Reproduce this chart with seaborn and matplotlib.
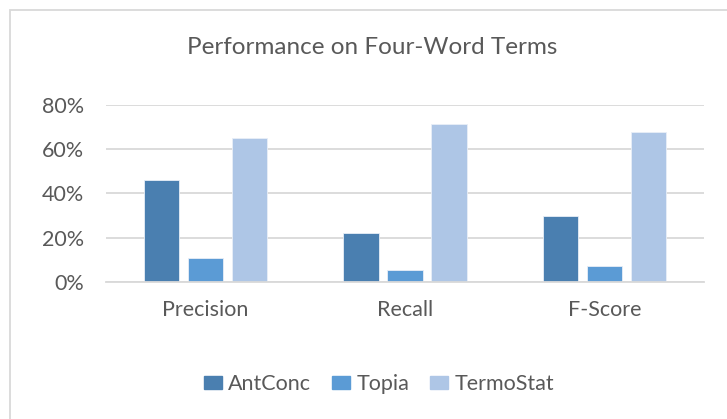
import matplotlib
matplotlib.use("Agg")
import matplotlib.pyplot as plt
from matplotlib.patches import Rectangle
from matplotlib.ticker import PercentFormatter
import pandas as pd
import seaborn as sns

categories = ["Precision", "Recall", "F-Score"]
tools = ["AntConc", "Topia", "TermoStat"]
antconc = [0.462, 0.220, 0.299]
topia = [0.106, 0.053, 0.071]
termostat = [0.649, 0.715, 0.679]
colors = ["#4a7fb0", "#5b9bd5", "#aec6e6"]

rows = []
for tool, vals in zip(tools, [antconc, topia, termostat]):
    for cat, v in zip(categories, vals):
        rows.append({"metric": cat, "tool": tool, "value": v})
df = pd.DataFrame(rows)

sns.set_theme(style="white")
plt.rcParams["font.family"] = ["Lato", "DejaVu Sans"]
text_color = "#595959"

fig = plt.figure(figsize=(7.27, 4.19), dpi=100)
ax = fig.add_axes([106 / 727, 1 - 281.7 / 419, 598 / 727, (281.7 - 105) / 419])

sns.barplot(data=df, x="metric", y="value", hue="tool", order=categories,
            hue_order=tools, palette=colors, saturation=1, width=0.662, gap=0.2,
            edgecolor="#e8eef7", linewidth=0.6, ax=ax, legend=True)

ax.set_ylim(0, 0.8)
ax.set_yticks([0, 0.2, 0.4, 0.6, 0.8])
ax.yaxis.set_major_formatter(PercentFormatter(1.0, decimals=0))
ax.grid(axis="y", color="#d9d9d9", linewidth=1.3)
ax.set_axisbelow(True)
for s in ["top", "right", "left"]:
    ax.spines[s].set_visible(False)
ax.spines["bottom"].set_color("#d9d9d9")
ax.spines["bottom"].set_linewidth(1.3)
ax.tick_params(axis="x", length=0, labelsize=15.5, colors=text_color, pad=13)
ax.tick_params(axis="y", length=0, labelsize=15.5, colors=text_color, pad=16)
ax.set_xlabel("")
ax.set_ylabel("")

ax.get_legend().remove()
handles = [Rectangle((0, 0), 1, 1, color=c) for c in colors]
fig.legend(handles, tools, loc="center", bbox_to_anchor=(379 / 727, 1 - 384 / 419),
           ncol=3, frameon=False, fontsize=15.5, handlelength=0.85, handleheight=0.55,
           handletextpad=0.3, columnspacing=0.95, labelcolor=text_color)

fig.text(372 / 727, 1 - 47 / 419, "Performance on Four-Word Terms",
         ha="center", va="center", fontsize=17.5, color=text_color)

# chart border (only top and left visible in the crop)
fig.patches.append(Rectangle((10 / 727, -0.1), 1.2, 1 - 10 / 419 + 0.1,
                             transform=fig.transFigure, fill=False,
                             edgecolor="#d9d9d9", linewidth=1.3))

fig.savefig("out.png", dpi=100, facecolor="white")
